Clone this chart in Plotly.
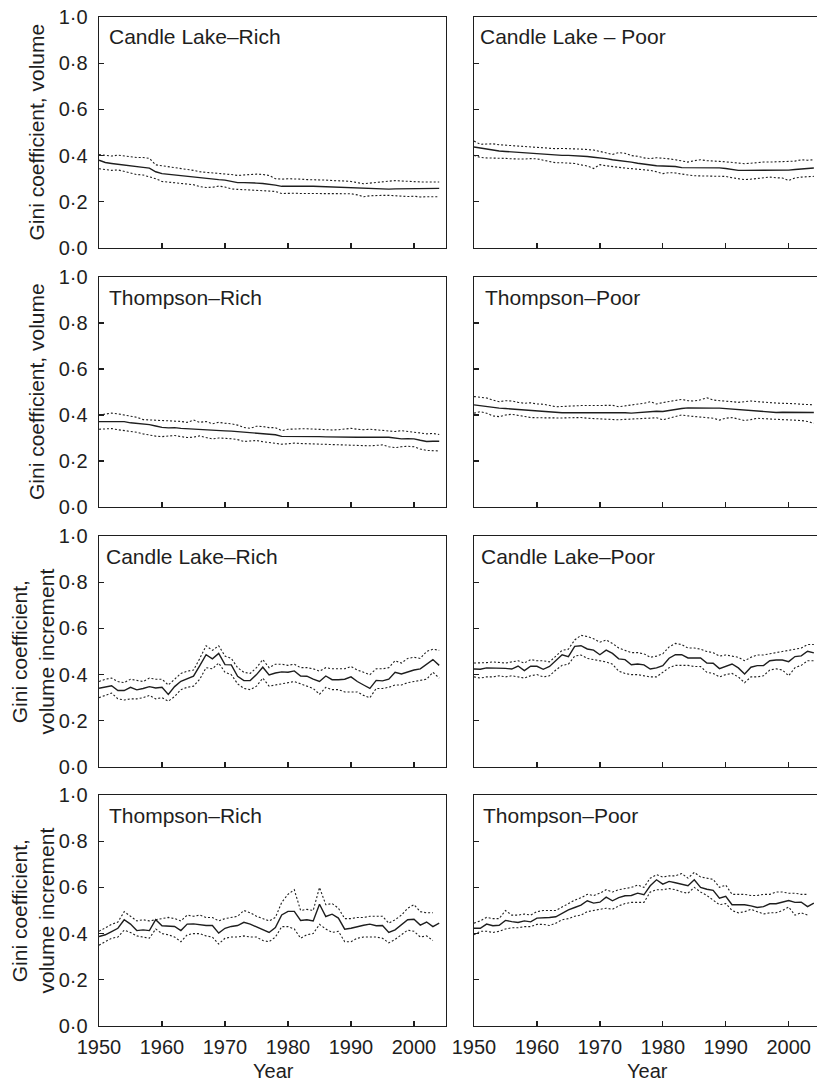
import plotly.graph_objects as go

# ---------------- data ----------------
years = list(range(1950, 2005))

y_tickvals = [0.0, 0.2, 0.4, 0.6, 0.8, 1.0]
y_ticktext = ["0·0", "0·2", "0·4", "0·6", "0·8", "1·0"]
x_tickvals = [1950, 1960, 1970, 1980, 1990, 2000]
x_ticktext = ["1950", "1960", "1970", "1980", "1990", "2000"]

panel_labels = ["Candle Lake–Rich", "Candle Lake – Poor",
                "Thompson–Rich", "Thompson–Poor",
                "Candle Lake–Rich", "Candle Lake–Poor",
                "Thompson–Rich", "Thompson–Poor"]

# Row 1 left: Candle Lake-Rich, volume
clr_vol_mean = [0.380, 0.370, 0.366, 0.362, 0.358,
                0.354, 0.351, 0.349, 0.346, 0.330,
                0.322, 0.319, 0.315, 0.311, 0.308,
                0.306, 0.304, 0.302, 0.299, 0.296,
                0.294, 0.287, 0.283, 0.283, 0.283,
                0.281, 0.279, 0.277, 0.272, 0.267,
                0.268, 0.268, 0.268, 0.268, 0.267,
                0.266, 0.265, 0.264, 0.263, 0.262,
                0.261, 0.258, 0.256, 0.256, 0.256,
                0.256, 0.255, 0.256, 0.256, 0.256,
                0.256, 0.256, 0.257, 0.257, 0.258]
clr_vol_upper = [0.405, 0.400, 0.398, 0.402, 0.398,
                 0.394, 0.392, 0.392, 0.388, 0.360,
                 0.356, 0.352, 0.350, 0.345, 0.340,
                 0.336, 0.330, 0.328, 0.326, 0.324,
                 0.322, 0.318, 0.314, 0.316, 0.318,
                 0.320, 0.318, 0.314, 0.300, 0.298,
                 0.300, 0.300, 0.298, 0.296, 0.296,
                 0.294, 0.294, 0.292, 0.292, 0.290,
                 0.288, 0.282, 0.278, 0.281, 0.284,
                 0.286, 0.289, 0.292, 0.290, 0.288,
                 0.287, 0.286, 0.286, 0.287, 0.286]
clr_vol_lower = [0.343, 0.338, 0.336, 0.338, 0.330,
                 0.325, 0.318, 0.316, 0.308, 0.300,
                 0.288, 0.285, 0.283, 0.280, 0.278,
                 0.274, 0.266, 0.262, 0.263, 0.268,
                 0.264, 0.256, 0.254, 0.252, 0.251,
                 0.248, 0.246, 0.246, 0.245, 0.236,
                 0.238, 0.237, 0.236, 0.236, 0.237,
                 0.236, 0.236, 0.236, 0.236, 0.235,
                 0.235, 0.230, 0.222, 0.226, 0.228,
                 0.228, 0.228, 0.226, 0.222, 0.223,
                 0.224, 0.221, 0.222, 0.223, 0.222]

# Row 1 right: Candle Lake - Poor, volume
clp_vol_mean = [0.437, 0.432, 0.427, 0.423, 0.420,
                0.418, 0.416, 0.414, 0.412, 0.410,
                0.408, 0.405, 0.402, 0.401, 0.401,
                0.401, 0.400, 0.398, 0.396, 0.393,
                0.391, 0.387, 0.382, 0.379, 0.377,
                0.372, 0.367, 0.363, 0.359, 0.356,
                0.355, 0.355, 0.353, 0.348, 0.348,
                0.348, 0.348, 0.348, 0.348, 0.347,
                0.344, 0.339, 0.336, 0.336, 0.336,
                0.337, 0.338, 0.338, 0.338, 0.338,
                0.337, 0.340, 0.343, 0.344, 0.346]
clp_vol_upper = [0.463, 0.449, 0.450, 0.451, 0.447,
                 0.445, 0.442, 0.440, 0.438, 0.437,
                 0.436, 0.434, 0.431, 0.430, 0.431,
                 0.431, 0.430, 0.428, 0.426, 0.424,
                 0.418, 0.410, 0.405, 0.413, 0.410,
                 0.400, 0.397, 0.390, 0.387, 0.391,
                 0.390, 0.386, 0.382, 0.378, 0.372,
                 0.378, 0.382, 0.378, 0.375, 0.375,
                 0.373, 0.370, 0.368, 0.365, 0.367,
                 0.370, 0.372, 0.372, 0.373, 0.373,
                 0.373, 0.376, 0.382, 0.380, 0.382]
clp_vol_lower = [0.401, 0.392, 0.390, 0.390, 0.389,
                 0.388, 0.386, 0.384, 0.385, 0.387,
                 0.386, 0.380, 0.373, 0.369, 0.369,
                 0.368, 0.366, 0.360, 0.355, 0.344,
                 0.361, 0.356, 0.351, 0.349, 0.346,
                 0.344, 0.343, 0.340, 0.336, 0.330,
                 0.322, 0.326, 0.325, 0.320, 0.315,
                 0.313, 0.312, 0.312, 0.312, 0.310,
                 0.310, 0.304, 0.300, 0.296, 0.298,
                 0.300, 0.304, 0.307, 0.304, 0.303,
                 0.292, 0.303, 0.307, 0.309, 0.310]

# Row 2 left: Thompson-Rich, volume
thr_vol_mean = [0.371, 0.371, 0.371, 0.372, 0.371,
                0.366, 0.364, 0.362, 0.358, 0.352,
                0.346, 0.344, 0.345, 0.342, 0.340,
                0.340, 0.339, 0.337, 0.335, 0.333,
                0.331, 0.330, 0.328, 0.325, 0.321,
                0.319, 0.318, 0.316, 0.314, 0.307,
                0.307, 0.309, 0.309, 0.309, 0.308,
                0.306, 0.305, 0.304, 0.304, 0.304,
                0.303, 0.303, 0.303, 0.302, 0.302,
                0.303, 0.303, 0.298, 0.296, 0.297,
                0.296, 0.290, 0.285, 0.286, 0.286]
thr_vol_upper = [0.400, 0.405, 0.408, 0.405, 0.400,
                 0.393, 0.390, 0.380, 0.379, 0.378,
                 0.378, 0.375, 0.374, 0.372, 0.368,
                 0.378, 0.368, 0.372, 0.362, 0.368,
                 0.364, 0.362, 0.356, 0.346, 0.342,
                 0.351, 0.350, 0.345, 0.345, 0.332,
                 0.338, 0.340, 0.340, 0.340, 0.338,
                 0.337, 0.336, 0.335, 0.336, 0.340,
                 0.342, 0.338, 0.336, 0.338, 0.336,
                 0.334, 0.330, 0.328, 0.332, 0.330,
                 0.325, 0.322, 0.318, 0.320, 0.315]
thr_vol_lower = [0.338, 0.338, 0.341, 0.336, 0.333,
                 0.328, 0.325, 0.318, 0.312, 0.308,
                 0.306, 0.310, 0.311, 0.306, 0.302,
                 0.304, 0.309, 0.302, 0.296, 0.300,
                 0.299, 0.297, 0.293, 0.285, 0.287,
                 0.289, 0.284, 0.280, 0.277, 0.273,
                 0.275, 0.278, 0.276, 0.275, 0.274,
                 0.275, 0.272, 0.270, 0.270, 0.268,
                 0.269, 0.268, 0.267, 0.266, 0.268,
                 0.270, 0.262, 0.258, 0.262, 0.264,
                 0.262, 0.252, 0.246, 0.246, 0.244]

# Row 2 right: Thompson-Poor, volume
thp_vol_mean = [0.444, 0.440, 0.436, 0.432, 0.430,
                0.428, 0.426, 0.423, 0.420, 0.418,
                0.415, 0.413, 0.412, 0.410, 0.410,
                0.410, 0.410, 0.410, 0.411, 0.412,
                0.412, 0.412, 0.412, 0.412, 0.410,
                0.408, 0.410, 0.413, 0.415, 0.416,
                0.415, 0.420, 0.425, 0.428, 0.431,
                0.430, 0.429, 0.429, 0.430, 0.430,
                0.428, 0.426, 0.423, 0.420, 0.418,
                0.418, 0.414, 0.411, 0.411, 0.412,
                0.412, 0.410, 0.410, 0.410, 0.411]
thp_vol_upper = [0.480, 0.478, 0.474, 0.465, 0.458,
                 0.462, 0.461, 0.455, 0.451, 0.453,
                 0.448, 0.447, 0.443, 0.436, 0.437,
                 0.439, 0.440, 0.441, 0.441, 0.442,
                 0.443, 0.444, 0.442, 0.436, 0.439,
                 0.444, 0.448, 0.451, 0.458, 0.448,
                 0.454, 0.458, 0.463, 0.468, 0.462,
                 0.461, 0.466, 0.475, 0.465, 0.464,
                 0.460, 0.458, 0.455, 0.458, 0.461,
                 0.458, 0.455, 0.455, 0.452, 0.451,
                 0.451, 0.449, 0.447, 0.446, 0.444]
thp_vol_lower = [0.408, 0.415, 0.408, 0.396, 0.393,
                 0.400, 0.403, 0.398, 0.392, 0.389,
                 0.388, 0.387, 0.386, 0.386, 0.387,
                 0.388, 0.390, 0.389, 0.386, 0.384,
                 0.384, 0.383, 0.381, 0.379, 0.381,
                 0.383, 0.382, 0.386, 0.389, 0.388,
                 0.379, 0.385, 0.392, 0.400, 0.396,
                 0.393, 0.392, 0.389, 0.386, 0.378,
                 0.386, 0.389, 0.384, 0.376, 0.380,
                 0.386, 0.384, 0.383, 0.381, 0.379,
                 0.379, 0.378, 0.376, 0.372, 0.364]

# Row 3 left: Candle Lake-Rich, volume increment
clr_inc_mean = [0.341, 0.348, 0.352, 0.331, 0.331,
                0.345, 0.334, 0.340, 0.348, 0.342,
                0.345, 0.314, 0.348, 0.371, 0.381,
                0.393, 0.439, 0.486, 0.468, 0.492,
                0.443, 0.442, 0.393, 0.374, 0.374,
                0.400, 0.432, 0.399, 0.407, 0.412,
                0.410, 0.416, 0.394, 0.393, 0.380,
                0.370, 0.394, 0.378, 0.378, 0.380,
                0.390, 0.370, 0.355, 0.340, 0.375,
                0.373, 0.380, 0.410, 0.403, 0.413,
                0.420, 0.425, 0.445, 0.465, 0.440]
clr_inc_upper = [0.370, 0.380, 0.385, 0.370, 0.365,
                 0.380, 0.375, 0.370, 0.385, 0.380,
                 0.380, 0.355, 0.380, 0.405, 0.415,
                 0.420, 0.470, 0.525, 0.505, 0.525,
                 0.480, 0.470, 0.430, 0.410, 0.405,
                 0.430, 0.465, 0.430, 0.445, 0.445,
                 0.440, 0.445, 0.430, 0.430, 0.425,
                 0.415, 0.430, 0.425, 0.425, 0.425,
                 0.435, 0.420, 0.410, 0.400, 0.425,
                 0.425, 0.430, 0.460, 0.450, 0.470,
                 0.475, 0.470, 0.500, 0.510, 0.505]
clr_inc_lower = [0.300, 0.310, 0.320, 0.295, 0.290,
                 0.295, 0.295, 0.300, 0.310, 0.295,
                 0.300, 0.285, 0.305, 0.335, 0.345,
                 0.350, 0.380, 0.430, 0.425, 0.450,
                 0.410, 0.400, 0.360, 0.340, 0.335,
                 0.350, 0.385, 0.350, 0.355, 0.360,
                 0.365, 0.370, 0.360, 0.350, 0.340,
                 0.315, 0.345, 0.335, 0.335, 0.325,
                 0.325, 0.325, 0.310, 0.300, 0.340,
                 0.340, 0.345, 0.355, 0.355, 0.365,
                 0.370, 0.375, 0.380, 0.410, 0.385]

# Row 3 right: Candle Lake-Poor, volume increment
clp_inc_mean = [0.424, 0.423, 0.429, 0.429, 0.427,
                0.427, 0.424, 0.437, 0.417, 0.436,
                0.436, 0.423, 0.435, 0.460, 0.486,
                0.478, 0.522, 0.525, 0.511, 0.506,
                0.486, 0.506, 0.492, 0.468, 0.465,
                0.443, 0.446, 0.442, 0.424, 0.429,
                0.439, 0.471, 0.486, 0.486, 0.472,
                0.472, 0.472, 0.450, 0.449, 0.426,
                0.435, 0.446, 0.429, 0.403, 0.432,
                0.439, 0.439, 0.460, 0.463, 0.463,
                0.456, 0.478, 0.481, 0.501, 0.494]
clp_inc_upper = [0.450, 0.450, 0.452, 0.455, 0.452,
                 0.450, 0.455, 0.460, 0.450, 0.465,
                 0.460, 0.460, 0.455, 0.480, 0.505,
                 0.510, 0.550, 0.570, 0.565, 0.555,
                 0.540, 0.550, 0.535, 0.515, 0.505,
                 0.495, 0.495, 0.490, 0.475, 0.480,
                 0.490, 0.520, 0.535, 0.530, 0.515,
                 0.515, 0.510, 0.500, 0.495, 0.480,
                 0.485, 0.480, 0.475, 0.460, 0.475,
                 0.485, 0.485, 0.490, 0.495, 0.500,
                 0.505, 0.510, 0.515, 0.530, 0.530]
clp_inc_lower = [0.390, 0.385, 0.390, 0.390, 0.395,
                 0.390, 0.395, 0.390, 0.385, 0.395,
                 0.400, 0.390, 0.395, 0.420, 0.440,
                 0.445, 0.480, 0.485, 0.470, 0.465,
                 0.460, 0.455, 0.445, 0.415, 0.405,
                 0.400, 0.400, 0.395, 0.390, 0.390,
                 0.410, 0.430, 0.440, 0.440, 0.440,
                 0.435, 0.435, 0.410, 0.405, 0.390,
                 0.400, 0.405, 0.390, 0.365, 0.390,
                 0.390, 0.395, 0.420, 0.425, 0.420,
                 0.395, 0.430, 0.440, 0.460, 0.460]

# Row 4 left: Thompson-Rich, volume increment (bounds end 2003)
thr_inc_mean = [0.387, 0.395, 0.409, 0.423, 0.460,
                0.441, 0.413, 0.416, 0.413, 0.460,
                0.434, 0.434, 0.431, 0.413, 0.441,
                0.442, 0.438, 0.435, 0.435, 0.402,
                0.423, 0.431, 0.435, 0.449, 0.441,
                0.428, 0.416, 0.405, 0.426, 0.481,
                0.496, 0.496, 0.457, 0.460, 0.455,
                0.527, 0.474, 0.484, 0.467, 0.419,
                0.423, 0.431, 0.436, 0.441, 0.434,
                0.435, 0.405, 0.416, 0.438, 0.460,
                0.462, 0.437, 0.450, 0.430, 0.445]
thr_inc_upper = [0.410, 0.425, 0.440, 0.450, 0.495,
                 0.475, 0.455, 0.460, 0.455, 0.460,
                 0.465, 0.470, 0.465, 0.455, 0.480,
                 0.475, 0.480, 0.470, 0.470, 0.455,
                 0.465, 0.470, 0.475, 0.500, 0.490,
                 0.475, 0.465, 0.455, 0.470, 0.535,
                 0.570, 0.590, 0.500, 0.505, 0.500,
                 0.600, 0.525, 0.530, 0.510, 0.465,
                 0.465, 0.470, 0.470, 0.475, 0.475,
                 0.475, 0.445, 0.460, 0.480, 0.510,
                 0.525, 0.495, 0.490, 0.490]
thr_inc_lower = [0.350, 0.365, 0.380, 0.385, 0.415,
                 0.405, 0.390, 0.385, 0.380, 0.420,
                 0.400, 0.395, 0.385, 0.365, 0.395,
                 0.400, 0.400, 0.390, 0.385, 0.355,
                 0.380, 0.385, 0.385, 0.390, 0.385,
                 0.385, 0.370, 0.365, 0.385, 0.430,
                 0.430, 0.420, 0.380, 0.395, 0.400,
                 0.440, 0.420, 0.405, 0.410, 0.365,
                 0.365, 0.380, 0.385, 0.385, 0.385,
                 0.380, 0.360, 0.375, 0.395, 0.415,
                 0.410, 0.385, 0.390, 0.370]

# Row 4 right: Thompson-Poor, volume increment (bounds end 2003)
thp_inc_mean = [0.423, 0.423, 0.441, 0.434, 0.436,
                0.457, 0.452, 0.448, 0.455, 0.451,
                0.467, 0.467, 0.470, 0.473, 0.488,
                0.503, 0.513, 0.523, 0.542, 0.532,
                0.536, 0.558, 0.542, 0.556, 0.564,
                0.565, 0.575, 0.568, 0.607, 0.633,
                0.614, 0.626, 0.620, 0.614, 0.607,
                0.633, 0.600, 0.592, 0.587, 0.553,
                0.561, 0.525, 0.525, 0.525, 0.520,
                0.513, 0.517, 0.529, 0.529, 0.535,
                0.543, 0.535, 0.536, 0.517, 0.532]
thp_inc_upper = [0.445, 0.455, 0.470, 0.465, 0.465,
                 0.500, 0.480, 0.480, 0.485, 0.480,
                 0.495, 0.500, 0.500, 0.500, 0.515,
                 0.530, 0.545, 0.555, 0.570, 0.565,
                 0.575, 0.590, 0.580, 0.590, 0.595,
                 0.600, 0.610, 0.600, 0.640, 0.655,
                 0.645, 0.650, 0.650, 0.660, 0.640,
                 0.665, 0.645, 0.640, 0.635, 0.600,
                 0.610, 0.570, 0.570, 0.570, 0.565,
                 0.565, 0.570, 0.570, 0.580, 0.580,
                 0.575, 0.575, 0.570, 0.570]
thp_inc_lower = [0.395, 0.410, 0.410, 0.405, 0.410,
                 0.420, 0.425, 0.425, 0.430, 0.430,
                 0.440, 0.440, 0.435, 0.445, 0.460,
                 0.465, 0.475, 0.480, 0.495, 0.500,
                 0.505, 0.510, 0.505, 0.520, 0.530,
                 0.535, 0.535, 0.535, 0.580, 0.590,
                 0.590, 0.595, 0.590, 0.580, 0.575,
                 0.600, 0.580, 0.565, 0.545, 0.525,
                 0.530, 0.500, 0.490, 0.495, 0.505,
                 0.495, 0.485, 0.490, 0.490, 0.500,
                 0.515, 0.480, 0.490, 0.480]

series = [
    (clr_vol_mean, clr_vol_upper, clr_vol_lower),
    (clp_vol_mean, clp_vol_upper, clp_vol_lower),
    (thr_vol_mean, thr_vol_upper, thr_vol_lower),
    (thp_vol_mean, thp_vol_upper, thp_vol_lower),
    (clr_inc_mean, clr_inc_upper, clr_inc_lower),
    (clp_inc_mean, clp_inc_upper, clp_inc_lower),
    (thr_inc_mean, thr_inc_upper, thr_inc_lower),
    (thp_inc_mean, thp_inc_upper, thp_inc_lower),
]

# ---------------- layout geometry (pixels) ----------------
W, H = 817, 1081
col_px = [(99, 446), (474, 817)]
col_xrange = [[1950, 2005.08], [1950, 2004.5]]
row_px = [(17, 248), (277, 507), (536, 767), (795, 1026)]
label_dx = [[8, 4], [8, 9], [5, 5], [8, 7]]

FONT = "Liberation Sans, Arial, Helvetica, sans-serif"
INK = "#1e1e1e"

fig = go.Figure()
layout = dict(
    width=W, height=H, autosize=False,
    margin=dict(l=0, r=0, t=0, b=0),
    paper_bgcolor="white", plot_bgcolor="white",
    showlegend=False,
    font=dict(family=FONT, size=20, color=INK),
)
annotations = []

for i in range(8):
    r, c = divmod(i, 2)
    n = i + 1
    xa = "x" if n == 1 else f"x{n}"
    ya = "y" if n == 1 else f"y{n}"
    mean, upper, lower = series[i]
    for vals, dash, w in ((upper, "2px,2px", 1.1), (lower, "2px,2px", 1.1), (mean, "solid", 1.4)):
        fig.add_trace(go.Scatter(
            x=years[:len(vals)], y=vals, mode="lines",
            line=dict(color=INK, width=w, dash=dash),
            xaxis=xa, yaxis=ya, hoverinfo="skip"))

    x0, x1 = col_px[c]
    y0, y1 = row_px[r]
    bottom = (r == 3)
    layout[f"xaxis{n if n > 1 else ''}"] = dict(
        domain=[x0 / W, x1 / W], range=col_xrange[c], anchor=ya,
        tickmode="array", tickvals=x_tickvals, ticktext=x_ticktext,
        showticklabels=bottom, ticks="inside", ticklen=5, tickwidth=1.3,
        ticklabelstandoff=3,
        tickcolor=INK, showline=True, mirror=True, linecolor=INK, linewidth=1.4,
        showgrid=False, zeroline=False, automargin=False,
        tickfont=dict(family=FONT, size=20, color=INK), fixedrange=True)
    layout[f"yaxis{n if n > 1 else ''}"] = dict(
        domain=[1 - y1 / H, 1 - y0 / H], range=[0, 1], anchor=xa,
        tickmode="array", tickvals=y_tickvals, ticktext=y_ticktext,
        showticklabels=(c == 0), ticks="inside", ticklen=5, tickwidth=1.3,
        ticklabelstandoff=6,
        tickcolor=INK, showline=True, mirror=(c == 0), linecolor=INK, linewidth=1.4,
        showgrid=False, zeroline=False, automargin=False,
        tickfont=dict(family=FONT, size=20, color=INK), fixedrange=True)

    # panel label
    annotations.append(dict(
        text=panel_labels[i], xref="paper", yref="paper",
        x=(x0 + label_dx[r][c]) / W, y=1 - (y0 + 20) / H,
        xanchor="left", yanchor="middle", showarrow=False,
        font=dict(family=FONT, size=21, color=INK)))

    # y-axis titles
    if c == 0:
        ytitle = "Gini coefficient, volume" if r < 2 else "Gini coefficient,<br>volume increment"
        annotations.append(dict(
            text=ytitle, xref="paper", yref="paper",
            x=(36 if r < 2 else 32) / W, y=1 - ((y0 + y1) / 2) / H,
            xanchor="center", yanchor="middle", textangle=-90, showarrow=False,
            font=dict(family=FONT, size=21, color=INK)))

    if bottom:
        annotations.append(dict(
            text="Year", xref="paper", yref="paper",
            x=(273 if c == 0 else 647) / W, y=1 - 1070.5 / H,
            xanchor="center", yanchor="middle", showarrow=False,
            font=dict(family=FONT, size=20, color=INK)))

layout["annotations"] = annotations
fig.update_layout(**layout)
fig.write_html("out.html",
               config={"displayModeBar": False, "staticPlot": True},
               post_script="document.body.style.margin='0';document.body.style.padding='0';"
                           "document.documentElement.style.overflow='hidden';")
